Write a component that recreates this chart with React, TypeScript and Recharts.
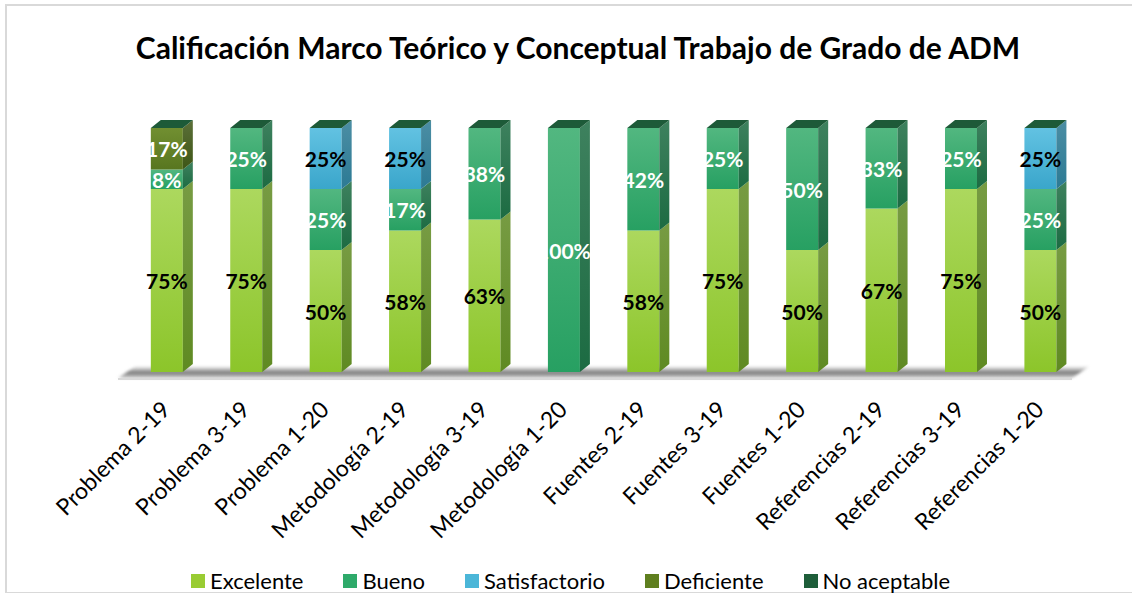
import React from 'react'
import { BarChart, Bar, XAxis, YAxis, LabelList } from 'recharts'

const categories = [
  'Problema 2-19',
  'Problema 3-19',
  'Problema 1-20',
  'Metodología 2-19',
  'Metodología 3-19',
  'Metodología 1-20',
  'Fuentes 2-19',
  'Fuentes 3-19',
  'Fuentes 1-20',
  'Referencias 2-19',
  'Referencias 3-19',
  'Referencias 1-20',
]
const excelente = [75, 75, 50, 58, 62.5, 0, 58, 75, 50, 67, 75, 50]
const bueno = [8, 25, 25, 17, 37.5, 100, 42, 25, 50, 33, 25, 25]
const satisfactorio = [0, 0, 25, 25, 0, 0, 0, 0, 0, 0, 0, 25]
const deficiente = [17, 0, 0, 0, 0, 0, 0, 0, 0, 0, 0, 0]
const noAceptable = [0, 0, 0, 0, 0, 0, 0, 0, 0, 0, 0, 0]

const TITLE = 'Calificación Marco Teórico y Conceptual Trabajo de Grado de ADM'

const SERIES = [
  { key: 'Excelente', values: excelente, top: '#acd85e', bottom: '#8cc52a', side: '#5f8a22', legend: '#99cc33', label: '#000' },
  { key: 'Bueno', values: bueno, top: '#52b780', bottom: '#27a062', side: '#1c6b42', legend: '#2eaa6a', label: '#fff' },
  { key: 'Satisfactorio', values: satisfactorio, top: '#62c2e2', bottom: '#3aa6cb', side: '#2c7a94', legend: '#4bb6d8', label: '#000' },
  { key: 'Deficiente', values: deficiente, top: '#718f31', bottom: '#58761f', side: '#3e5616', legend: '#5f7f1f', label: '#fff' },
  { key: 'No aceptable', values: noAceptable, top: '#276b45', bottom: '#1b5a36', side: '#123f26', legend: '#1e5e3a', label: '#fff' },
]

const data = categories.map((name, i) => {
  const row: Record<string, any> = { name }
  SERIES.forEach((s) => (row[s.key] = s.values[i]))
  return row
})

// chart geometry
const W = 1132
const H = 593
const PLOT_LEFT = 127
const PLOT_RIGHT = 1080
const PLOT_TOP = 128
const PLOT_BOTTOM = 372
const DX = 10
const DY = 8
const TOP_FACE = '#1d5a38'
const FONT = 'Lato, "Open Sans", sans-serif'

const idOf = (k: string) => k.replace(/\s/g, '')

function make3D(idx: number) {
  return (props: any) => {
    const { x, y, width, height, payload } = props
    if (!height || height <= 0) return <g />
    const s = SERIES[idx]
    const isTop = SERIES.slice(idx + 1).every((o) => !payload[o.key])
    const r = x + width
    return (
      <g>
        <rect x={x} y={y} width={width} height={height} fill={`url(#front-${idOf(s.key)})`} />
        <polygon
          points={`${r},${y} ${r + DX},${y - DY} ${r + DX},${y + height - DY} ${r},${y + height}`}
          fill={`url(#side-${idOf(s.key)})`}
        />
        {isTop && (
          <polygon
            points={`${x},${y} ${x + DX},${y - DY} ${r + DX},${y - DY} ${r},${y}`}
            fill={TOP_FACE}
          />
        )}
      </g>
    )
  }
}

function makeLabel(color: string) {
  return (props: any) => {
    const { x, y, width, height, value } = props
    if (!value) return null
    return (
      <text
        x={x + width / 2}
        y={y + height / 2}
        textAnchor="middle"
        dominantBaseline="central"
        fill={color}
        fontFamily={FONT}
        fontWeight={700}
        fontSize={21}
      >
        {Math.round(value)}%
      </text>
    )
  }
}

const AxisTick = (props: any) => {
  const { x, y, payload } = props
  return (
    <g transform={`translate(${x + 5},${y + 39})`}>
      <text transform="rotate(-45)" textAnchor="end" fill="#000" fontFamily={FONT} fontSize={23}>
        {payload.value}
      </text>
    </g>
  )
}

export default function App() {
  return (
    <div style={{ position: 'absolute', left: 0, top: 0, width: W, height: H, overflow: 'hidden', background: '#fff' }}>
      <div
        style={{
          position: 'absolute',
          left: 5,
          top: 4,
          width: 1140,
          height: 586,
          border: '2px solid #d9d9d9',
        }}
      />
      <svg width={W} height={H} style={{ position: 'absolute', left: 0, top: 0 }}>
        <defs>
          {SERIES.map((s) => (
            <React.Fragment key={s.key}>
              <linearGradient id={`front-${idOf(s.key)}`} x1="0" y1="0" x2="0" y2="1">
                <stop offset="0%" stopColor={s.top} />
                <stop offset="100%" stopColor={s.bottom} />
              </linearGradient>
              <linearGradient id={`side-${idOf(s.key)}`} x1="0" y1="0" x2="0" y2="1">
                <stop offset="0%" stopColor={s.side} stopOpacity={0.85} />
                <stop offset="100%" stopColor={s.side} />
              </linearGradient>
            </React.Fragment>
          ))}
          <linearGradient id="floor" x1="0" y1="0" x2="0" y2="1">
            <stop offset="0%" stopColor="#ffffff" />
            <stop offset="55%" stopColor="#7a7a7a" />
            <stop offset="100%" stopColor="#d0d0d0" />
          </linearGradient>
          <filter id="blur" x="-5%" y="-100%" width="110%" height="300%">
            <feGaussianBlur stdDeviation="1.5" />
          </filter>
        </defs>
        <polygon
          points={`${PLOT_LEFT - 9},${PLOT_BOTTOM + 6} ${PLOT_RIGHT - 8},${PLOT_BOTTOM + 6} ${PLOT_RIGHT + 10},${PLOT_BOTTOM - 6} ${PLOT_LEFT + 9},${PLOT_BOTTOM - 6}`}
          fill="url(#floor)"
          filter="url(#blur)"
        />
        <rect x={PLOT_LEFT - 9} y={PLOT_BOTTOM + 6} width={PLOT_RIGHT - PLOT_LEFT + 1} height={2} fill="#d9d9d9" />
      </svg>
      <div
        style={{
          position: 'absolute',
          left: 14,
          top: 29,
          width: W - 4,
          textAlign: 'center',
          fontFamily: FONT,
          fontWeight: 700,
          fontSize: 30,
          lineHeight: '36px',
          color: '#000',
        }}
      >
        {TITLE}
      </div>
      <div style={{ position: 'absolute', left: 0, top: 0 }}>
        <BarChart
          width={W}
          height={H}
          data={data}
          margin={{ top: PLOT_TOP, right: W - PLOT_RIGHT, left: PLOT_LEFT, bottom: 0 }}
          barCategoryGap="30%"
        >
          <XAxis
            dataKey="name"
            axisLine={false}
            tickLine={false}
            tickSize={0}
            tickMargin={0}
            interval={0}
            height={H - PLOT_BOTTOM}
            tick={<AxisTick />}
          />
          <YAxis hide domain={[0, 100]} />
          {SERIES.map((s, i) => (
            <Bar key={s.key} dataKey={s.key} stackId="a" fill={s.legend} shape={make3D(i)} isAnimationActive={false}>
              <LabelList dataKey={s.key} content={makeLabel(s.label)} />
            </Bar>
          ))}
        </BarChart>
      </div>
      <div
        style={{
          position: 'absolute',
          left: 191,
          top: 567,
          display: 'flex',
          alignItems: 'center',
          fontFamily: FONT,
          fontSize: 22,
          color: '#000',
        }}
      >
        {SERIES.map((s) => (
          <div key={s.key} style={{ display: 'flex', alignItems: 'center', marginRight: 40 }}>
            <span style={{ display: 'inline-block', width: 14, height: 14, background: s.legend, marginRight: 5 }} />
            <span>{s.key}</span>
          </div>
        ))}
      </div>
    </div>
  )
}
